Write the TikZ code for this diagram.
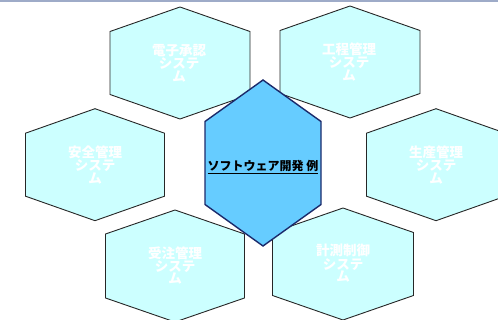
\documentclass[tikz,border=0pt]{standalone}
\usepackage{fontspec}
\newfontfamily\jpfont{Noto Sans CJK JP}
\begin{document}
\begin{tikzpicture}[x=1pt,y=-1pt,
  lhex/.style={fill=lightcyan,draw=black!85,line width=0.9pt,line join=miter},
  chex/.style={fill=midblue,draw=navyline,line width=1.4pt,line join=miter},
  ltext/.style={text=white,align=center,font=\jpfont\bfseries\fontsize{13.5}{11}\selectfont,inner sep=0pt},
  ctext/.style={text=black,font=\jpfont\bfseries\fontsize{12}{12}\selectfont,inner sep=0pt}]
\definecolor{lightcyan}{HTML}{CCFFFF}
\definecolor{midblue}{HTML}{66CCFF}
\definecolor{navyline}{HTML}{1B2A6B}
\definecolor{topline}{HTML}{9EABC8}
\useasboundingbox (0,0) rectangle (498,320);
\begin{scope}
\clip (0,0) rectangle (498,320);
% light hexagons
\draw[lhex] (180,63) +(0,-56) -- +(70,-31.5) -- +(70,31.5) -- +(0,56) -- +(-70,31.5) -- +(-70,-31.5) -- cycle;
\draw[lhex] (350,62) +(0,-56) -- +(70,-31.5) -- +(70,31.5) -- +(0,56) -- +(-70,31.5) -- +(-70,-31.5) -- cycle;
\draw[lhex] (95,164.7) +(0,-56) -- +(69.5,-31.5) -- +(69.5,31.5) -- +(0,56) -- +(-69.5,31.5) -- +(-69.5,-31.5) -- cycle;
\draw[lhex] (436,164.7) +(0,-56) -- +(69.5,-31.5) -- +(69.5,31.5) -- +(0,56) -- +(-69.5,31.5) -- +(-69.5,-31.5) -- cycle;
\draw[lhex] (175,266) +(0,-56) -- +(69.5,-32) -- +(69.5,32) -- +(0,56) -- +(-69.5,32) -- +(-69.5,-32) -- cycle;
\draw[lhex] (343,264) +(0,-56) -- +(70.5,-31.5) -- +(70.5,31.5) -- +(0,56) -- +(-70.5,31.5) -- +(-70.5,-31.5) -- cycle;
% centre hexagon
\draw[chex] (263,163) +(0,-83) -- +(58,-41.5) -- +(58,41.5) -- +(0,83) -- +(-58,41.5) -- +(-58,-41.5) -- cycle;
% top rule
\fill[topline] (0,0) rectangle (498,1.6);
\end{scope}
% labels
\node[ltext] (t1) at (179,63) {電子承認\\システ\\ム};
\node[ltext] (t2) at (349,62) {工程管理\\システ\\ム};
\node[ltext] (t3) at (95,164.7) {安全管理\\システ\\ム};
\node[ltext] (t4) at (436,164.7) {生産管理\\システ\\ム};
\node[ltext] (t5) at (175,265.5) {受注管理\\システ\\ム};
\node[ltext] (t6) at (343,263.5) {計測制御\\システ\\ム};
\node[ctext] (c) at (263,167) {\underline{ソフトウェア開発 例}};
\end{tikzpicture}
\end{document}
